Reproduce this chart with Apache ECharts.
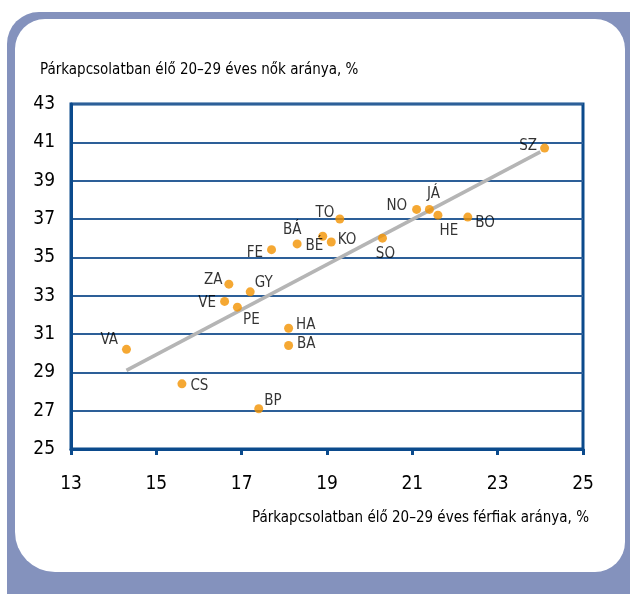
<!DOCTYPE html>
<html>
<head>
<meta charset="utf-8">
<script src="https://cdn.jsdelivr.net/npm/echarts@6/dist/echarts.min.js"></script>
<style>
  html, body { margin: 0; padding: 0; background: #fff; overflow: hidden; }
  .frame-outer {
    position: absolute; left: 7px; top: 12px; width: 660px; height: 620px;
    background: #8492bd; border-radius: 32px;
  }
  .frame-inner {
    position: absolute; left: 15px; top: 19px; width: 610px; height: 553px;
    background: #fff; border-radius: 30px 30px 30px 40px;
  }
  #chart { position: absolute; left: 0; top: 0; width: 630px; height: 594px; }
</style>
</head>
<body>
<div class="frame-outer"></div>
<div class="frame-inner"></div>
<div id="chart"></div>
<script>
// megyék rövidítése
var codes = ['SZ', 'NO', 'JÁ', 'HE', 'BO', 'TO', 'KO', 'SO', 'BÁ', 'BÉ', 'FE', 'ZA', 'GY', 'VE', 'PE', 'HA', 'BA', 'VA', 'CS', 'BP']
// férfiak aránya, %
var menValues = [24.1, 21.1, 21.4, 21.6, 22.3, 19.3, 19.1, 20.3, 18.3, 18.9, 17.7, 16.7, 17.2, 16.6, 16.9, 18.1, 18.1, 14.3, 15.6, 17.4]
// nők aránya, %
var womenValues = [40.7, 37.5, 37.5, 37.2, 37.1, 37.0, 35.8, 36.0, 35.7, 36.1, 35.4, 33.6, 33.2, 32.7, 32.4, 31.3, 30.4, 30.2, 28.4, 27.1]
// trendvonal két végpontja
var trendX = [14.3, 24.0]
var trendY = [29.1, 40.5]
// tengelyek
var xTicks = [13, 15, 17, 19, 21, 23, 25]
var yTicks = [25, 27, 29, 31, 33, 35, 37, 39, 41, 43]
var yTitle = 'Párkapcsolatban élő 20–29 éves nők aránya, %'
var xTitle = 'Párkapcsolatban élő 20–29 éves férfiak aránya, %'

// címkék elhelyezése (pozíció, eltolás x, eltolás y)
var labelPlace = {
  SZ: ['left', 2, -2], NO: ['left', 0, -3], 'JÁ': ['top', 4, 2], HE: ['bottom', 11, -1],
  BO: ['right', -2, 6], TO: ['left', 4, -6], KO: ['right', -3, -2], SO: ['bottom', 3, -1],
  'BÁ': ['top', -5, 3], 'BÉ': ['left', 10, 10], FE: ['left', 1, 3], ZA: ['left', 3, -4],
  GY: ['right', -5, -9], VE: ['left', 1, 2], PE: ['bottom', 14, -4], HA: ['right', -2, -3],
  BA: ['right', -1, -1], VA: ['left', 1, -9], CS: ['right', -1, 2], BP: ['right', -4, -8]
}

var font = '"Liberation Sans Narrow", "DejaVu Sans Condensed", sans-serif'
var axisBlue = '#0b4a8c'

var points = codes.map(function (c, i) {
  var p = labelPlace[c]
  return {
    value: [menValues[i], womenValues[i]],
    name: c,
    label: { position: p[0], offset: [p[1], p[2]] }
  }
})

var myChart = echarts.init(document.getElementById('chart'))
var option = {
  animation: false,
  grid: {
    left: 71, top: 104, width: 512, height: 345,
    show: true, borderColor: axisBlue, borderWidth: 3, backgroundColor: 'transparent'
  },
  xAxis: {
    type: 'value',
    min: xTicks[0], max: xTicks[xTicks.length - 1], interval: 2,
    axisLine: { show: true, lineStyle: { color: axisBlue, width: 3 } },
    axisTick: { show: true, length: 6, lineStyle: { color: axisBlue, width: 3 } },
    axisLabel: { margin: 26, color: '#000', fontFamily: font, fontSize: 19 },
    splitLine: { show: false }
  },
  yAxis: {
    type: 'value',
    min: yTicks[0], max: yTicks[yTicks.length - 1], interval: 2,
    axisLine: { show: true, lineStyle: { color: axisBlue, width: 3 } },
    axisTick: { show: false },
    axisLabel: { margin: 16, color: '#000', fontFamily: font, fontSize: 19 },
    splitLine: { show: true, lineStyle: { color: '#2d5f98', width: 2 } }
  },
  graphic: [
    {
      type: 'text', left: 40, top: 63,
      style: { text: yTitle, fill: '#000', font: '15px ' + font }
    },
    {
      type: 'text', right: 41, top: 511,
      style: { text: xTitle, fill: '#000', font: '15px ' + font }
    }
  ],
  series: [
    {
      type: 'line',
      data: trendX.map(function (x, i) { return [x, trendY[i]] }),
      symbol: 'none',
      lineStyle: { color: '#b5b5b5', width: 3.5 },
      z: 2
    },
    {
      type: 'scatter',
      data: points,
      symbolSize: 9,
      itemStyle: { color: '#f39200' },
      label: {
        show: true,
        formatter: '{b}',
        color: '#000',
        fontFamily: font,
        fontSize: 15,
        distance: 5
      },
      z: 3
    }
  ]
}
myChart.setOption(option)
window.addEventListener('resize', () => {
  myChart.resize()
})
</script>
</body>
</html>
